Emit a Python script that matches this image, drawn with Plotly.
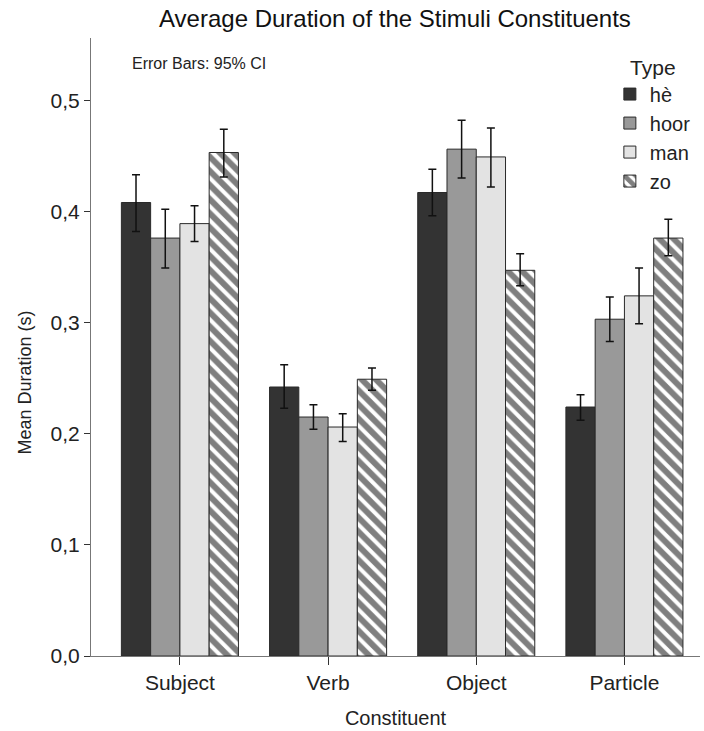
import plotly.graph_objects as go

categories = ["Subject", "Verb", "Object", "Particle"]
types = ["hè", "hoor", "man", "zo"]

means = {
    "hè":   [0.408, 0.242, 0.417, 0.224],
    "hoor": [0.376, 0.215, 0.456, 0.303],
    "man":  [0.389, 0.206, 0.449, 0.324],
    "zo":   [0.453, 0.249, 0.347, 0.376],
}
ci_upper = {
    "hè":   [0.433, 0.262, 0.438, 0.235],
    "hoor": [0.402, 0.226, 0.482, 0.323],
    "man":  [0.405, 0.218, 0.475, 0.349],
    "zo":   [0.474, 0.259, 0.362, 0.393],
}
ci_lower = {
    "hè":   [0.382, 0.223, 0.396, 0.212],
    "hoor": [0.349, 0.204, 0.430, 0.283],
    "man":  [0.373, 0.193, 0.422, 0.299],
    "zo":   [0.431, 0.239, 0.333, 0.360],
}

fill_colors = {"hè": "#333333", "hoor": "#999999", "man": "#e3e3e3", "zo": "#ffffff"}

fig = go.Figure()
for t in types:
    m = means[t]
    plus = [u - v for u, v in zip(ci_upper[t], m)]
    minus = [v - l for v, l in zip(m, ci_lower[t])]
    marker = dict(color=fill_colors[t], line=dict(color="#2a2a2a", width=1))
    if t == "zo":
        marker["pattern"] = dict(shape="\\", fgcolor="#000000", bgcolor="#ffffff",
                                 size=10, solidity=0.6, fillmode="overlay")
    fig.add_trace(go.Bar(
        x=categories, y=m, name=t, marker=marker,
        error_y=dict(type="data", symmetric=False, array=plus, arrayminus=minus,
                     color="#111111", thickness=1.5, width=4),
    ))

fig.update_layout(
    width=704, height=731,
    margin=dict(l=91, r=4, t=38, b=75),
    paper_bgcolor="white", plot_bgcolor="white",
    barmode="group", bargap=0.21, bargroupgap=0,
    separators=",.",
    font=dict(family="Liberation Sans, Arial, sans-serif", size=20, color="#222222"),
    title=dict(text="Average Duration of the Stimuli Constituents",
               x=0.561, xanchor="center", y=0.975, yanchor="middle",
               font=dict(size=24, color="#111111")),
    legend=dict(title=dict(text="Type", side="top center", font=dict(size=21)),
                x=0.852, xanchor="left", y=0.985, yanchor="top",
                font=dict(size=20), bgcolor="rgba(0,0,0,0)",
                itemwidth=30, tracegroupgap=2, traceorder="normal"),
    showlegend=True,
)
fig.update_xaxes(
    range=[-0.6, 3.51], showline=True, linecolor="#777777", linewidth=1,
    ticks="outside", ticklen=8, tickcolor="#333333", showgrid=False,
    title=dict(text="Constituent", font=dict(size=20), standoff=17),
    tickfont=dict(size=21),
)
fig.update_yaxes(
    range=[0, 0.556], dtick=0.1, tickformat=".1f", showline=True,
    linecolor="#777777", linewidth=1, ticks="outside", ticklen=6,
    tickcolor="#333333", showgrid=False, zeroline=False,
    tickfont=dict(size=21),
)
fig.add_annotation(text="Mean Duration (s)", xref="paper", yref="paper",
                   x=-0.108, y=0.443, xanchor="center", yanchor="middle",
                   textangle=-90, showarrow=False,
                   font=dict(size=18, color="#222222"))
fig.add_annotation(text="Error Bars: 95% CI", xref="paper", yref="paper",
                   x=0.064, y=0.958, xanchor="left", yanchor="middle",
                   showarrow=False, font=dict(size=16, color="#222222"))

fig.write_html("out.html")
